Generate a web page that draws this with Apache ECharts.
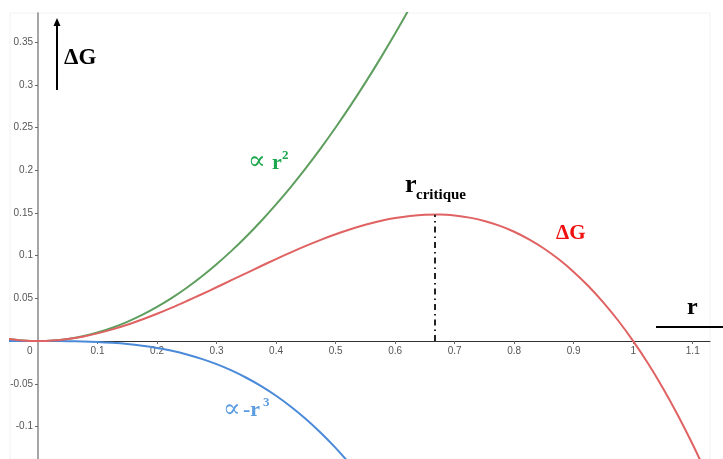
<!DOCTYPE html>
<html>
<head>
<meta charset="utf-8">
<script src="https://cdn.jsdelivr.net/npm/echarts@6/dist/echarts.min.js"></script>
<style>
  html, body { margin: 0; padding: 0; background: #fff; }
  #chart { width: 723px; height: 459px; }
</style>
</head>
<body>
<div id="chart"></div>
<script>
  // r values (abscissa)
  var rValues = [-0.05, -0.025, 0, 0.025, 0.05, 0.075, 0.1, 0.125, 0.15, 0.175, 0.2, 0.225, 0.25, 0.275, 0.3, 0.325, 0.35, 0.375, 0.4, 0.425, 0.45, 0.475, 0.5, 0.525, 0.55, 0.575, 0.6, 0.625, 0.65, 0.675, 0.7, 0.725, 0.75, 0.775, 0.8, 0.825, 0.85, 0.875, 0.9, 0.925, 0.95, 0.975, 1.0, 1.025, 1.05, 1.075, 1.1, 1.125];
  // ΔG (red)
  var deltaG = [0.0026, 0.0006, 0, 0.0006, 0.0024, 0.0052, 0.0090, 0.0137, 0.0191, 0.0253, 0.0320, 0.0392, 0.0469, 0.0548, 0.0630, 0.0713, 0.0796, 0.0879, 0.0960, 0.1039, 0.1114, 0.1185, 0.1250, 0.1309, 0.1361, 0.1405, 0.1440, 0.1465, 0.1479, 0.1481, 0.1470, 0.1445, 0.1406, 0.1351, 0.1280, 0.1191, 0.1084, 0.0957, 0.0810, 0.0642, 0.0451, 0.0238, 0, -0.0262, -0.0551, -0.0867, -0.1210, -0.1582];
  // ∝ r² (green)
  var surfaceTerm = [0.0025, 0.0006, 0, 0.0006, 0.0025, 0.0056, 0.01, 0.0156, 0.0225, 0.0306, 0.04, 0.0506, 0.0625, 0.0756, 0.09, 0.1056, 0.1225, 0.1406, 0.16, 0.1806, 0.2025, 0.2256, 0.25, 0.2756, 0.3025, 0.3306, 0.36, 0.3906, 0.4225];
  // ∝ -r³ (blue)
  var volumeTerm = [0.0001, 0, 0, 0, -0.0001, -0.0004, -0.001, -0.002, -0.0034, -0.0054, -0.008, -0.0114, -0.0156, -0.0208, -0.027, -0.0343, -0.0429, -0.0527, -0.064, -0.0768, -0.0911, -0.1072, -0.125, -0.1447, -0.1664];
  // r critique
  var rCritique = 0.667;
  var deltaGMax = 0.148;

  var xTicks = [0.1, 0.2, 0.3, 0.4, 0.5, 0.6, 0.7, 0.8, 0.9, 1, 1.1];
  var yTicks = [-0.1, -0.05, 0.05, 0.1, 0.15, 0.2, 0.25, 0.3, 0.35];

  function pairs(ys) {
    return ys.map(function (y, i) { return [rValues[i], y]; });
  }

  var chart = echarts.init(document.getElementById('chart'));
  var serif = '"Liberation Serif", "DejaVu Serif", serif';
  var sans = '"Liberation Sans", Arial, sans-serif';

  chart.setOption({
    animation: false,
    grid: {
      left: 10, right: 13, top: 13, bottom: 0,
      containLabel: false, outerBoundsMode: 'none',
      show: true, borderColor: '#f2f2f2', borderWidth: 1
    },
    xAxis: {
      type: 'value',
      min: -0.047,
      max: 1.129,
      position: 'bottom',
      offset: -118,
      splitLine: { show: false },
      axisLine: { onZero: false, lineStyle: { color: '#333', width: 1 } },
      axisTick: { show: true, length: 3, customValues: xTicks, lineStyle: { color: '#666' } },
      axisLabel: { customValues: xTicks, color: '#555', fontSize: 10, fontFamily: sans, margin: 5 }
    },
    yAxis: {
      type: 'value',
      min: -0.138,
      max: 0.384,
      position: 'left',
      offset: -28,
      splitLine: { show: false },
      axisLine: { onZero: false, lineStyle: { color: '#888', width: 1.5 } },
      axisTick: { show: true, length: 3, customValues: yTicks, lineStyle: { color: '#666' } },
      axisLabel: { customValues: yTicks, color: '#555', fontSize: 10, fontFamily: sans, margin: 5 }
    },
    series: [
      {
        type: 'line', name: 'r2', data: pairs(surfaceTerm), smooth: 0.3,
        showSymbol: false, clip: true, lineStyle: { color: '#5e9e5e', width: 2 }
      },
      {
        type: 'line', name: 'r3', data: pairs(volumeTerm), smooth: 0.3,
        showSymbol: false, clip: true, lineStyle: { color: '#4a8ad8', width: 2 }
      },
      {
        type: 'line', name: 'dG', data: pairs(deltaG), smooth: 0.3,
        showSymbol: false, clip: true, lineStyle: { color: '#e06262', width: 2 }
      },
      {
        type: 'line', name: 'crit', data: [[rCritique, 0], [rCritique, deltaGMax]], showSymbol: false,
        lineStyle: { color: '#222', width: 2, type: [6, 4, 1.5, 4] }
      }
    ],
    graphic: [
      { type: 'text', left: 27, top: 346, style: { text: '0', fill: '#555', font: '10px ' + sans } },
      // vertical arrow ΔG
      { type: 'line', shape: { x1: 57, y1: 90, x2: 57, y2: 24 }, style: { stroke: '#000', lineWidth: 2 } },
      { type: 'polygon', shape: { points: [[57, 18], [53.5, 26], [60.5, 26]] }, style: { fill: '#000' } },
      { type: 'text', x: 64, y: 70, style: { text: 'ΔG', fill: '#000', font: 'bold 23px ' + serif, textVerticalAlign: 'bottom' } },
      // r axis label
      { type: 'text', x: 687, y: 320, style: { text: 'r', fill: '#000', font: 'bold 24px ' + serif, textVerticalAlign: 'bottom' } },
      { type: 'line', shape: { x1: 656, y1: 327, x2: 723, y2: 327 }, style: { stroke: '#000', lineWidth: 2 } },
      // r critique
      { type: 'text', x: 405, y: 198, style: { text: 'r', fill: '#000', font: 'bold 26px ' + serif, textVerticalAlign: 'bottom' } },
      { type: 'text', x: 416, y: 203, style: { text: 'critique', fill: '#000', font: 'bold 15px ' + serif, textVerticalAlign: 'bottom' } },
      // red ΔG
      { type: 'text', x: 556, y: 244, style: { text: 'ΔG', fill: '#f01010', font: 'bold 21px ' + serif, textVerticalAlign: 'bottom' } },
      // green ∝ r²
      { type: 'text', x: 248, y: 175, style: { text: '∝', fill: '#1aa64a', font: '26px ' + serif, textVerticalAlign: 'bottom' } },
      { type: 'text', x: 272, y: 174, style: { text: 'r', fill: '#1aa64a', font: 'bold 22px ' + serif, textVerticalAlign: 'bottom' } },
      { type: 'text', x: 282, y: 162, style: { text: '2', fill: '#1aa64a', font: 'bold 13px ' + serif, textVerticalAlign: 'bottom' } },
      // blue ∝ -r³
      { type: 'text', x: 223, y: 423, style: { text: '∝', fill: '#5c9ce0', font: '26px ' + serif, textVerticalAlign: 'bottom' } },
      { type: 'text', x: 243, y: 421, style: { text: '-r', fill: '#5c9ce0', font: 'bold 22px ' + serif, textVerticalAlign: 'bottom' } },
      { type: 'text', x: 263, y: 409, style: { text: '3', fill: '#5c9ce0', font: 'bold 13px ' + serif, textVerticalAlign: 'bottom' } }
    ]
  });
</script>
</body>
</html>
